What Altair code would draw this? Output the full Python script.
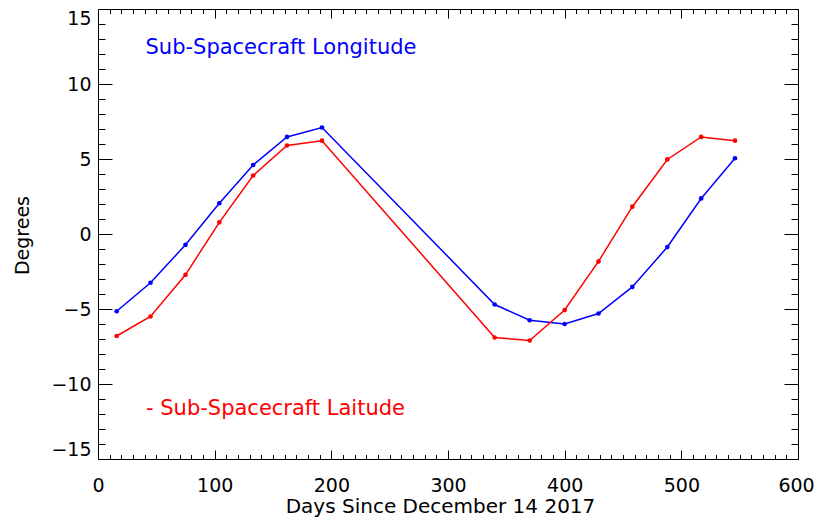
import altair as alt
import pandas as pd

# ---- data ----
days = [16, 45, 75, 104, 133, 162, 192, 340, 370, 400, 429, 458, 488, 517, 546]
longitude = [-5.15, -3.25, -0.72, 2.05, 4.6, 6.47, 7.1, -4.7, -5.75, -6.0, -5.3, -3.53, -0.87, 2.37, 5.05]
latitude = [-6.8, -5.5, -2.72, 0.78, 3.9, 5.9, 6.22, -6.9, -7.1, -5.07, -1.83, 1.82, 4.97, 6.47, 6.22]
series_names = ["Longitude", "Latitude"]
legend_texts = ["Sub-Spacecraft Longitude", "- Sub-Spacecraft Laitude"]
x_major = list(range(0, 601, 100))
y_major = list(range(-15, 16, 5))
x_minor = list(range(0, 601, 10))
y_minor = list(range(-15, 16, 1))

n = len(days)
df = pd.DataFrame({
    "day": days * 2,
    "deg": longitude + latitude,
    "series": [series_names[0]] * n + [series_names[1]] * n,
})

W, H = 700, 450
FONT = "DejaVu Sans"
FS = 19

xs = alt.Scale(domain=[0, 600], nice=False, zero=False)
ys = alt.Scale(domain=[-15, 15], nice=False, zero=False)
color = alt.Color("series:N",
                  scale=alt.Scale(domain=series_names, range=["#0000ff", "#ff0000"]),
                  legend=None)


def tick_axis(orient, offset, values, major, size):
    return alt.Axis(
        orient=orient, offset=offset, values=values, labels=False,
        domain=False, grid=False, title=None, ticks=True,
        tickColor="black", tickWidth=1,
        tickSize={"condition": {"test": f"datum.value % {major} === 0", "value": size},
                  "value": size / 2},
    )


x_label_axis = alt.Axis(
    orient="bottom", values=x_major, domain=False, ticks=False, tickSize=0,
    grid=False, labelPadding=17, labelFont=FONT, labelFontSize=FS,
    labelColor="black", labelFlush=False,
    labelOffset={"condition": {"test": "datum.value === 600", "value": -2}, "value": 0},
    title="Days Since December 14 2017", titleFont=FONT, titleFontSize=20,
    titleFontWeight="normal", titleColor="black",
    titleX=342, titleY=53, titleBaseline="alphabetic", titleAlign="center",
)
y_label_axis = alt.Axis(
    orient="left", values=y_major, domain=False, ticks=False, tickSize=0,
    grid=False, labelPadding=7, labelFont=FONT, labelFontSize=FS,
    labelColor="black", labelFlush=True,
    title="Degrees", titleFont=FONT, titleFontSize=FS,
    titleFontWeight="normal", titleColor="black",
    titleX=-75.5, titleY=226, titleBaseline="middle", titleAlign="center",
    titleAngle=270,
)

base = alt.Chart(df)

lines = base.mark_line(strokeWidth=1.5).encode(
    x=alt.X("day:Q", scale=xs, axis=x_label_axis),
    y=alt.Y("deg:Q", scale=ys, axis=y_label_axis),
    color=color,
    detail="series:N",
)
points = base.mark_circle(size=22, opacity=1).encode(
    x=alt.X("day:Q", scale=xs, axis=None),
    y=alt.Y("deg:Q", scale=ys, axis=None),
    color=color,
)

# inward ticks on the four borders
ticks_a = base.mark_point(opacity=0).encode(
    x=alt.X("day:Q", scale=xs, axis=tick_axis("bottom", -H, x_minor, 100, 9)),   # top border
    y=alt.Y("deg:Q", scale=ys, axis=tick_axis("right", -W, y_minor, 5, 14)),     # left border
)
ticks_b = base.mark_point(opacity=0).encode(
    x=alt.X("day:Q", scale=xs, axis=tick_axis("top", -H, x_minor, 100, 9)),      # bottom border
    y=alt.Y("deg:Q", scale=ys, axis=tick_axis("left", -W, y_minor, 5, 14)),      # right border
)

txt_df = pd.DataFrame({"t": legend_texts})
lon_text = alt.Chart(txt_df).transform_filter(f"datum.t == '{legend_texts[0]}'").mark_text(
    align="left", baseline="middle", font=FONT, fontSize=21, color="#0000ff"
).encode(x=alt.value(47.5), y=alt.value(38.5), text="t:N")
lat_text = alt.Chart(txt_df).transform_filter(f"datum.t == '{legend_texts[1]}'").mark_text(
    align="left", baseline="middle", font=FONT, fontSize=21, color="#ff0000"
).encode(x=alt.value(48), y=alt.value(400), text="t:N")

chart = alt.layer(lines, points, ticks_a, ticks_b, lon_text, lat_text).resolve_scale(
    x="shared", y="shared"
).resolve_axis(
    x="independent", y="independent"
).properties(
    width=W, height=H,
    autosize=alt.AutoSizeParams(type="none"),
    padding={"left": 90, "top": 1, "right": 17, "bottom": 58},
    background="white",
).configure_view(
    stroke="black", strokeWidth=1
)

chart.save("out.html", embed_options={"renderer": "svg", "actions": False})
